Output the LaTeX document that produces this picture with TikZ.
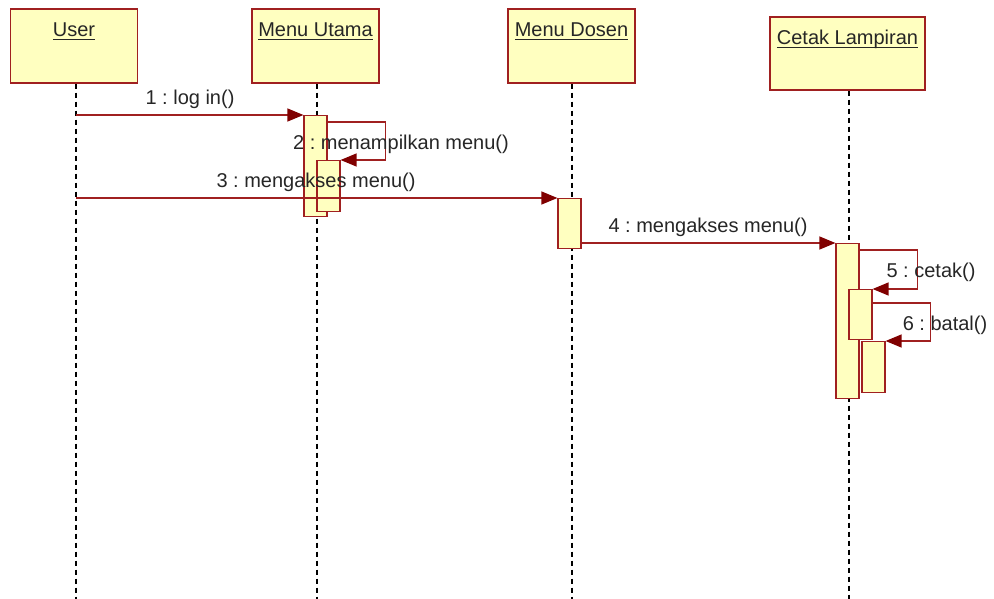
\documentclass[tikz,border=0pt]{standalone}
\usepackage{fontspec}
\setmainfont{Liberation Sans}
\usepackage{tikz}
\usetikzlibrary{arrows.meta,positioning,calc}
\pgfdeclarelayer{bg}
\pgfsetlayers{bg,main}
\definecolor{umlred}{RGB}{160,32,32}
\definecolor{umltip}{RGB}{128,0,0}
\definecolor{umlfill}{RGB}{255,255,192}
\newcommand{\objname}[1]{\underline{\raisebox{0pt}[\height][1pt]{#1}}}
\tikzset{
  objbox/.style={draw=umlred, fill=umlfill, line width=1.2pt, minimum width=127pt, minimum height=74pt, inner sep=0pt},
  objtext/.style={inner sep=0pt, anchor=base, text=black!85},
  actbar/.style={draw=umlred, fill=umlfill, line width=1.2pt, minimum width=23pt, inner sep=0pt, anchor=north},
  msg/.style={draw=umlred, line width=1.3pt, -{Triangle[length=16pt,width=13pt,fill=umltip,color=umltip]}},
  msgtext/.style={inner sep=0pt, anchor=base, text=black!85},
  lifeline/.style={line width=1.5pt, dash pattern=on 5pt off 4pt}
}
\frenchspacing
\begin{document}
\begin{tikzpicture}[x=1pt,y=-1pt,font=\fontsize{20}{24}\selectfont]
    \useasboundingbox (0,0) rectangle (994,599);

    \node [objbox] (user) at (74,46) {};
    \node [objbox] (utama) at (315.5,46) {};
    \node [objbox] (dosen) at (571.5,46) {};
    \node [objbox, minimum width=155pt, minimum height=73pt] (cetak) at (847.5,53.5) {};
    \node [objtext] (userlbl) at ([yshift=-28pt]user.north) {\objname{User}};
    \node [objtext] (utamalbl) at ([yshift=-28pt]utama.north) {\objname{Menu Utama}};
    \node [objtext] (dosenlbl) at ([yshift=-28pt]dosen.north) {\objname{Menu Dosen}};
    \node [objtext] (cetaklbl) at ([yshift=-28pt]cetak.north) {\objname{Cetak Lampiran}};

    \coordinate (userend) at (76,599);
    \coordinate (utamaend) at (317,599);
    \coordinate (dosenend) at (572,599);
    \coordinate (cetakend) at (849,599);

    \node [actbar, minimum height=101pt] (utama1) at (315.5,115) {};
    \node [actbar, minimum height=51pt] (utama2) at (328.5,160) {};
    \node [actbar, minimum height=50pt] (dosen1) at (569.5,198) {};
    \node [actbar, minimum height=155pt] (cetak1) at (847.5,243) {};
    \node [actbar, minimum height=50pt] (cetak2) at (860.5,289) {};
    \node [actbar, minimum height=51pt] (cetak3) at (873.5,341) {};

    \draw [msg] (userend |- utama1.north) -- (utama1.north west);
    \draw [msg] ([yshift=-7pt]utama1.north east) -- ++(58,0) |- (utama2.north east);
    \draw [msg] (userend |- dosen1.north) -- (dosen1.north west);
    \draw [msg] (dosen1.east |- cetak1.north) -- (cetak1.north west);
    \draw [msg] ([yshift=-7pt]cetak1.north east) -- ++(58,0) |- (cetak2.north east);
    \draw [msg] ([yshift=-14pt]cetak2.north east) -- ++(58,0) |- (cetak3.north east);

    \node [msgtext] (m1) at (190,105) {1 : log in()};
    \node [msgtext] (m2) at (401,150) {2 : menampilkan menu()};
    \node [msgtext] (m3) at (316,188) {3 : mengakses menu()};
    \node [msgtext] (m4) at (708,233) {4 : mengakses menu()};
    \node [msgtext] (m5) at (931,277) {5 : cetak()};
    \node [msgtext] (m6) at (945,330) {6 : batal()};

    \begin{pgfonlayer}{bg}    % lifelines behind the bars
        \draw [lifeline] (user.south -| userend) -- (userend);
        \draw [lifeline] (utama.south -| utamaend) -- (utamaend);
        \draw [lifeline] (dosen.south -| dosenend) -- (dosenend);
        \draw [lifeline] (cetak.south -| cetakend) -- (cetakend);
    \end{pgfonlayer}
\end{tikzpicture}
\end{document}
